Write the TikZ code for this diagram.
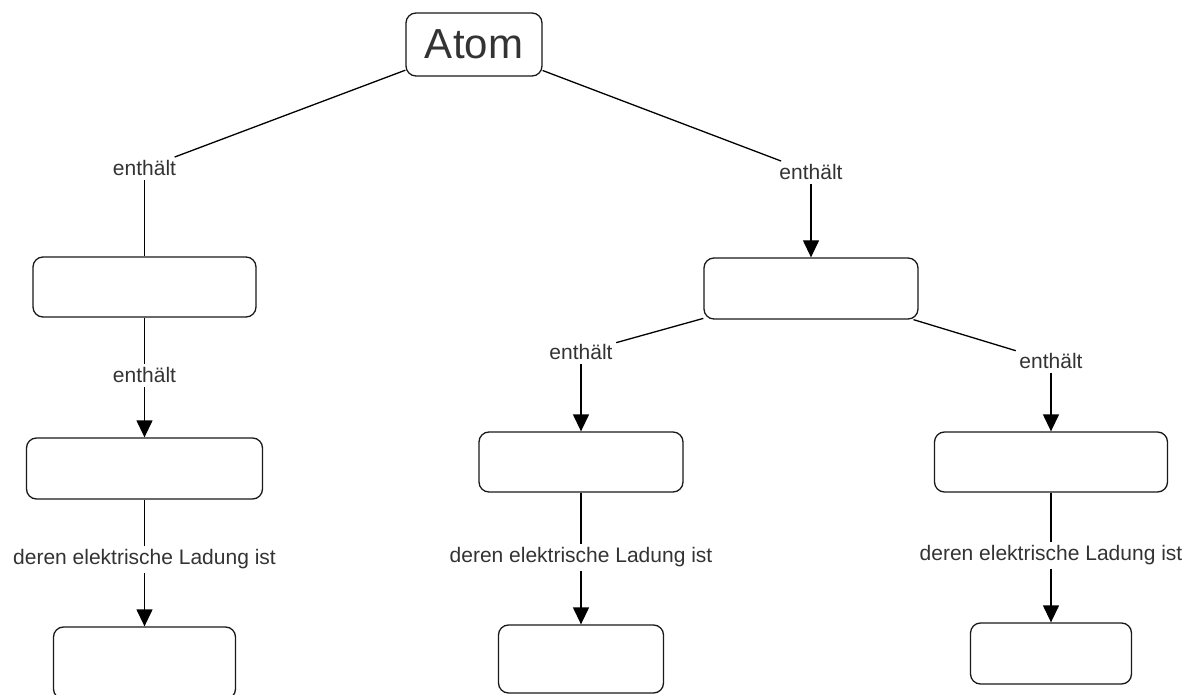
\documentclass[tikz,border=0pt]{standalone}
\usepackage{fontspec}
\setmainfont{Liberation Sans}
\usetikzlibrary{arrows.meta}

\begin{document}
\begin{tikzpicture}[x=1pt,y=-1pt,line width=1.3pt,
  concept/.style={draw=black!90,rounded corners=10pt,inner sep=0pt},
  link/.style={inner sep=3pt,text=black!80,font=\fontsize{21}{25}\selectfont},
  >={Triangle[length=17pt,width=16pt]}]
\useasboundingbox (0,0) rectangle (1195,695);


% top
\node[concept,minimum width=136pt,minimum height=63pt,text=black!80,font=\fontsize{42}{50}\selectfont] (ConceptAtom) at (474,44.5) {Atom};
\node[link] (LinkA) at (144.5,168.4) {enthält};
\node[link] (LinkB) at (811,172.4) {enthält};

\draw (ConceptAtom) to (LinkA);
\draw (ConceptAtom) to (LinkB);


% left
\node[concept,minimum width=223pt,minimum height=60pt] (ConceptL1) at (144.5,287) {};
\node[link] (LinkL1) at (144.5,375.4) {enthält};
\node[concept,minimum width=236pt,minimum height=61pt] (ConceptL2) at (144.5,468.5) {};
\node[link] (LinkL2) at (144.5,559.5) {deren elektrische Ladung ist};
\node[concept,minimum width=182pt,minimum height=72pt] (ConceptL3) at (144.5,663) {};

\draw (LinkA) to (ConceptL1);
\draw (ConceptL1) to (LinkL1);
\draw[->] (LinkL1) to (ConceptL2);
\draw (ConceptL2) to (LinkL2);
\draw[->] (LinkL2) to (ConceptL3);


% right
\node[concept,minimum width=214pt,minimum height=61pt] (ConceptR1) at (811,288.5) {};
\draw[->] (LinkB) to (ConceptR1);

\node[link] (LinkR1a) at (581,352.4) {enthält};
\node[link] (LinkR1b) at (1051,361.4) {enthält};
\draw (ConceptR1) to (LinkR1a);
\draw (ConceptR1) to (LinkR1b);

\node[concept,minimum width=204pt,minimum height=60pt] (ConceptR2a) at (581,462) {};
\node[concept,minimum width=233pt,minimum height=60pt] (ConceptR2b) at (1051,462) {};
\draw[->] (LinkR1a) to (ConceptR2a);
\draw[->] (LinkR1b) to (ConceptR2b);

\node[link] (LinkR2a) at (581,557.5) {deren elektrische Ladung ist};
\node[link] (LinkR2b) at (1051,555.5) {deren elektrische Ladung ist};
\draw (ConceptR2a) to (LinkR2a);
\draw (ConceptR2b) to (LinkR2b);

\node[concept,minimum width=165pt,minimum height=68pt] (ConceptR3a) at (581,659) {};
\node[concept,minimum width=161pt,minimum height=61pt] (ConceptR3b) at (1051,653.5) {};
\draw[->] (LinkR2a) to (ConceptR3a);
\draw[->] (LinkR2b) to (ConceptR3b);

\end{tikzpicture}
\end{document}
